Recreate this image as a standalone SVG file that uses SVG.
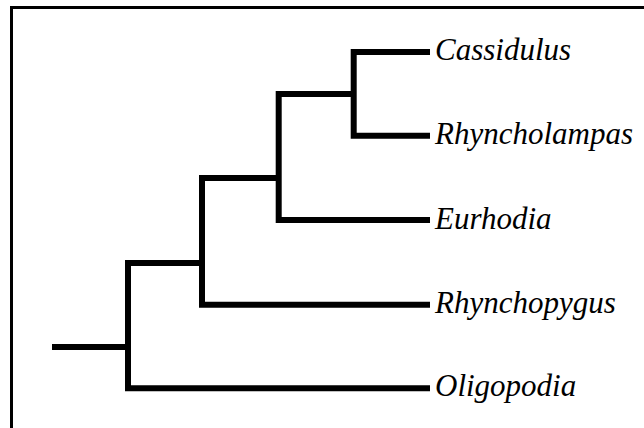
<svg xmlns="http://www.w3.org/2000/svg" width="644" height="428" viewBox="0 0 644 428">
<style>
.frame{fill:none;stroke:#000;stroke-width:3}
.br{fill:none;stroke:#000;stroke-width:6;stroke-linejoin:miter;stroke-linecap:butt}
</style>
<rect width="644" height="428" fill="#fff"/>
<rect class="frame" x="11.5" y="7.5" width="700" height="500"/>
<g id="connectors">
<path class="br" d="M52,347H128"/>
<path class="br" d="M430,388.3H128V263H202"/>
<path class="br" d="M430,304.7H202V178H278.7"/>
<path class="br" d="M430,220H278.7V94H353.7"/>
<path class="br" d="M430,52H353.7V135.7H430"/>
</g>
<g font-family="Liberation Serif, Times New Roman, serif" font-style="italic" font-size="31" fill="#000">
<g id="cassidulus"><text x="435" y="59.5">Cassidulus</text></g>
<g id="rhyncholampas"><text x="435" y="143.5">Rhyncholampas</text></g>
<g id="eurhodia"><text x="435" y="228.5">Eurhodia</text></g>
<g id="rhynchopygus"><text x="435" y="312.5">Rhynchopygus</text></g>
<g id="oligopodia"><text x="435" y="395.5">Oligopodia</text></g>
</g>
</svg>
